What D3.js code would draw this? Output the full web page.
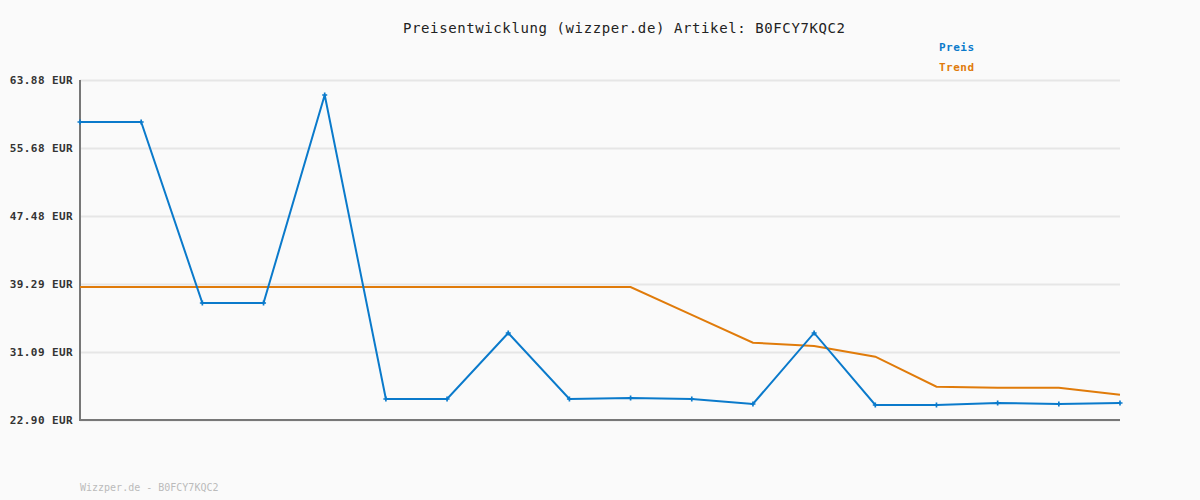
<!DOCTYPE html>
<html lang="de">
<head>
<meta charset="UTF-8">
<title>Preisentwicklung</title>
<script src="https://cdn.jsdelivr.net/npm/d3@7"></script>
<style>
    body { margin: 0; background: #fafafa; }
    svg { display: block; background: #fafafa; font-family: "DejaVu Sans Mono", monospace; }
    .grid line { stroke: #e6e6e6; stroke-width: 2; }
    .grid path { display: none; }
    .yaxis text { font-family: "DejaVu Sans Mono", monospace; font-size: 11px; font-weight: bold; fill: #333; letter-spacing: 0.4px; }
    .yaxis line, .yaxis path { display: none; }
</style>
</head>
<body>
<svg id="vis" width="1200" height="500"></svg>
<script>
    // Preise je Messpunkt (EUR)
    let preis = [58.82, 58.82, 37.00, 37.00, 62.07, 25.43, 25.43, 33.39, 25.43, 25.55,
                 25.43, 24.83, 33.39, 24.71, 24.71, 24.95, 24.83, 24.95];
    let trend = [38.93, 38.93, 38.93, 38.93, 38.93, 38.93, 38.93, 38.93, 38.93, 38.93,
                 35.58, 32.22, 31.82, 30.53, 26.92, 26.80, 26.80, 25.95];
    let yTicks = [22.90, 31.09, 39.29, 47.48, 55.68, 63.88];
    let seriesNames = ["Preis", "Trend"];
    let colors = ["#0a7acb", "#e07b0a"];

    let svg = d3.select("#vis");
    let margin = { top: 80, right: 80, bottom: 80, left: 80 };
    let width = +svg.attr("width");
    let height = +svg.attr("height");

    let x = d3.scalePoint().domain(d3.range(preis.length)).range([margin.left, width - margin.right]);
    let y = d3.scaleLinear().domain([yTicks[0], yTicks[yTicks.length - 1]]).range([420, margin.top]);

    /* Gitter */
    svg.append("g")
        .attr("class", "grid")
        .attr("transform", "translate(" + margin.left + ",0)")
        .call(d3.axisLeft(y).tickValues(yTicks).tickSize(-(width - margin.right - margin.left)).tickFormat(""));

    /* Achsenbeschriftung */
    svg.append("g")
        .attr("class", "yaxis")
        .attr("transform", "translate(" + (margin.left - 7) + ",0)")
        .call(d3.axisLeft(y).tickValues(yTicks).tickSize(0).tickPadding(0).tickFormat(d => d.toFixed(2) + " EUR"))
        .attr("font-family", null)
        .attr("font-size", null);

    /* Achsen */
    svg.append("path")
        .attr("d", "M" + margin.left + "," + y.range()[1] + "V" + y.range()[0] + "H" + (width - margin.right))
        .attr("fill", "none")
        .attr("stroke", "#777")
        .attr("stroke-width", 2);

    let line = d3.line().x((d, i) => x(i)).y(d => y(d));

    svg.append("path")
        .datum(trend)
        .attr("d", line)
        .attr("fill", "none")
        .attr("stroke", colors[1])
        .attr("stroke-width", 2);

    svg.append("path")
        .datum(preis)
        .attr("d", line)
        .attr("fill", "none")
        .attr("stroke", colors[0])
        .attr("stroke-width", 2);

    svg.selectAll(".marker")
        .data(preis)
        .join("path")
        .attr("class", "marker")
        .attr("transform", (d, i) => "translate(" + x(i) + "," + y(d) + ")")
        .attr("d", d3.symbol(d3.symbolCross, 14))
        .attr("fill", colors[0]);

    /* Titel */
    svg.append("text")
        .attr("x", 403)
        .attr("y", 33)
        .attr("textLength", 442)
        .attr("lengthAdjust", "spacing")
        .style("font-size", "14px")
        .attr("fill", "#222")
        .text("Preisentwicklung (wizzper.de) Artikel: B0FCY7KQC2");

    /* Legende */
    svg.selectAll(".legend")
        .data(seriesNames)
        .join("text")
        .attr("class", "legend")
        .attr("x", 939)
        .attr("y", (d, i) => 51 + i * 20)
        .style("font-size", "11px")
        .style("font-weight", "bold")
        .attr("textLength", 35)
        .attr("lengthAdjust", "spacing")
        .attr("fill", (d, i) => colors[i])
        .text(d => d);

    /* Fusszeile */
    svg.append("text")
        .attr("x", 80)
        .attr("y", 491)
        .style("font-size", "10px")
        .attr("fill", "#bbb")
        .text("Wizzper.de - B0FCY7KQC2");
</script>
</body>
</html>
